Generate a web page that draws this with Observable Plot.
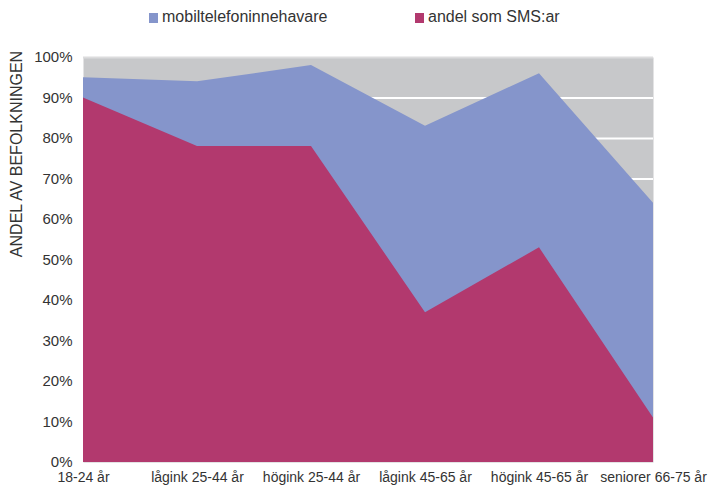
<!DOCTYPE html>
<html>
<head>
<meta charset="utf-8">
<script src="https://cdn.jsdelivr.net/npm/d3@7"></script>
<script src="https://cdn.jsdelivr.net/npm/@observablehq/plot@0.6"></script>
<style>
  body { margin: 0; background: #fff; font-family: "Liberation Sans", Arial, sans-serif; }
  #wrap { position: relative; width: 709px; height: 490px; }
  #legend { position: relative; width: 709px; height: 30px; font-size: 16px; color: #333; }
  .sw { position: absolute; top: 13px; width: 9px; height: 10px; }
  .lt { position: absolute; top: 8px; line-height: 18px; white-space: nowrap; }
  #ytitle { position: absolute; left: 17px; top: 154px; transform: translate(-50%, -50%) rotate(-90deg);
            font-size: 16px; color: #333; white-space: nowrap; }
</style>
</head>
<body>
<div id="wrap">
  <div id="legend"></div>
  <div id="chart"></div>
  <div id="ytitle">ANDEL AV BEFOLKNINGEN</div>
</div>
<script>
const categories = ["18-24 år", "lågink 25-44 år", "högink 25-44 år", "lågink 45-65 år", "högink 45-65 år", "seniorer 66-75 år"];
const mobileOwners = [0.95, 0.94, 0.98, 0.83, 0.96, 0.64];
const smsUsers = [0.90, 0.78, 0.78, 0.37, 0.53, 0.11];
const seriesNames = ["mobiltelefoninnehavare", "andel som SMS:ar"];
const seriesColors = ["#8595cb", "#b2396e"];
const yTicks = [0, 0.1, 0.2, 0.3, 0.4, 0.5, 0.6, 0.7, 0.8, 0.9, 1.0];

const data = categories.map((c, i) => ({cat: c, mobile: mobileOwners[i], sms: smsUsers[i]}));

// legend
const legend = document.getElementById("legend");
const legendX = [149, 415];
seriesNames.forEach((name, i) => {
  const sw = document.createElement("div");
  sw.className = "sw";
  sw.style.left = legendX[i] + "px";
  sw.style.background = seriesColors[i];
  legend.appendChild(sw);
  const t = document.createElement("div");
  t.className = "lt";
  t.style.left = (legendX[i] + 13) + "px";
  t.textContent = name;
  legend.appendChild(t);
});

const chart = Plot.plot({
  width: 709,
  height: 460,
  marginTop: 27,
  marginBottom: 28,
  marginLeft: 83,
  marginRight: 56,
  style: {fontFamily: "Liberation Sans, Arial, sans-serif", color: "#333", background: "transparent"},
  x: {type: "point", domain: categories, padding: 0, label: null},
  y: {domain: [0, 1], label: null},
  marks: [
    Plot.frame({fill: "#c7c8ca", stroke: null}),
    Plot.ruleY(yTicks.filter(d => d > 0 && d < 1), {stroke: "#ffffff", strokeWidth: 2}),
    Plot.ruleY([1], {stroke: "#dcdcdd", strokeWidth: 2}),
    Plot.areaY(data, {x: "cat", y1: 0, y2: "mobile", fill: seriesColors[0], curve: "linear"}),
    Plot.areaY(data, {x: "cat", y1: 0, y2: "sms", fill: seriesColors[1], curve: "linear"}),
    Plot.axisY({ticks: yTicks, tickFormat: d3.format(".0%"), tickSize: 0, tickPadding: 11, fontSize: 15, label: null}),
    Plot.axisX({tickSize: 0, tickPadding: 10, fontSize: 14, label: null})
  ]
});
document.getElementById("chart").appendChild(chart);
</script>
</body>
</html>
